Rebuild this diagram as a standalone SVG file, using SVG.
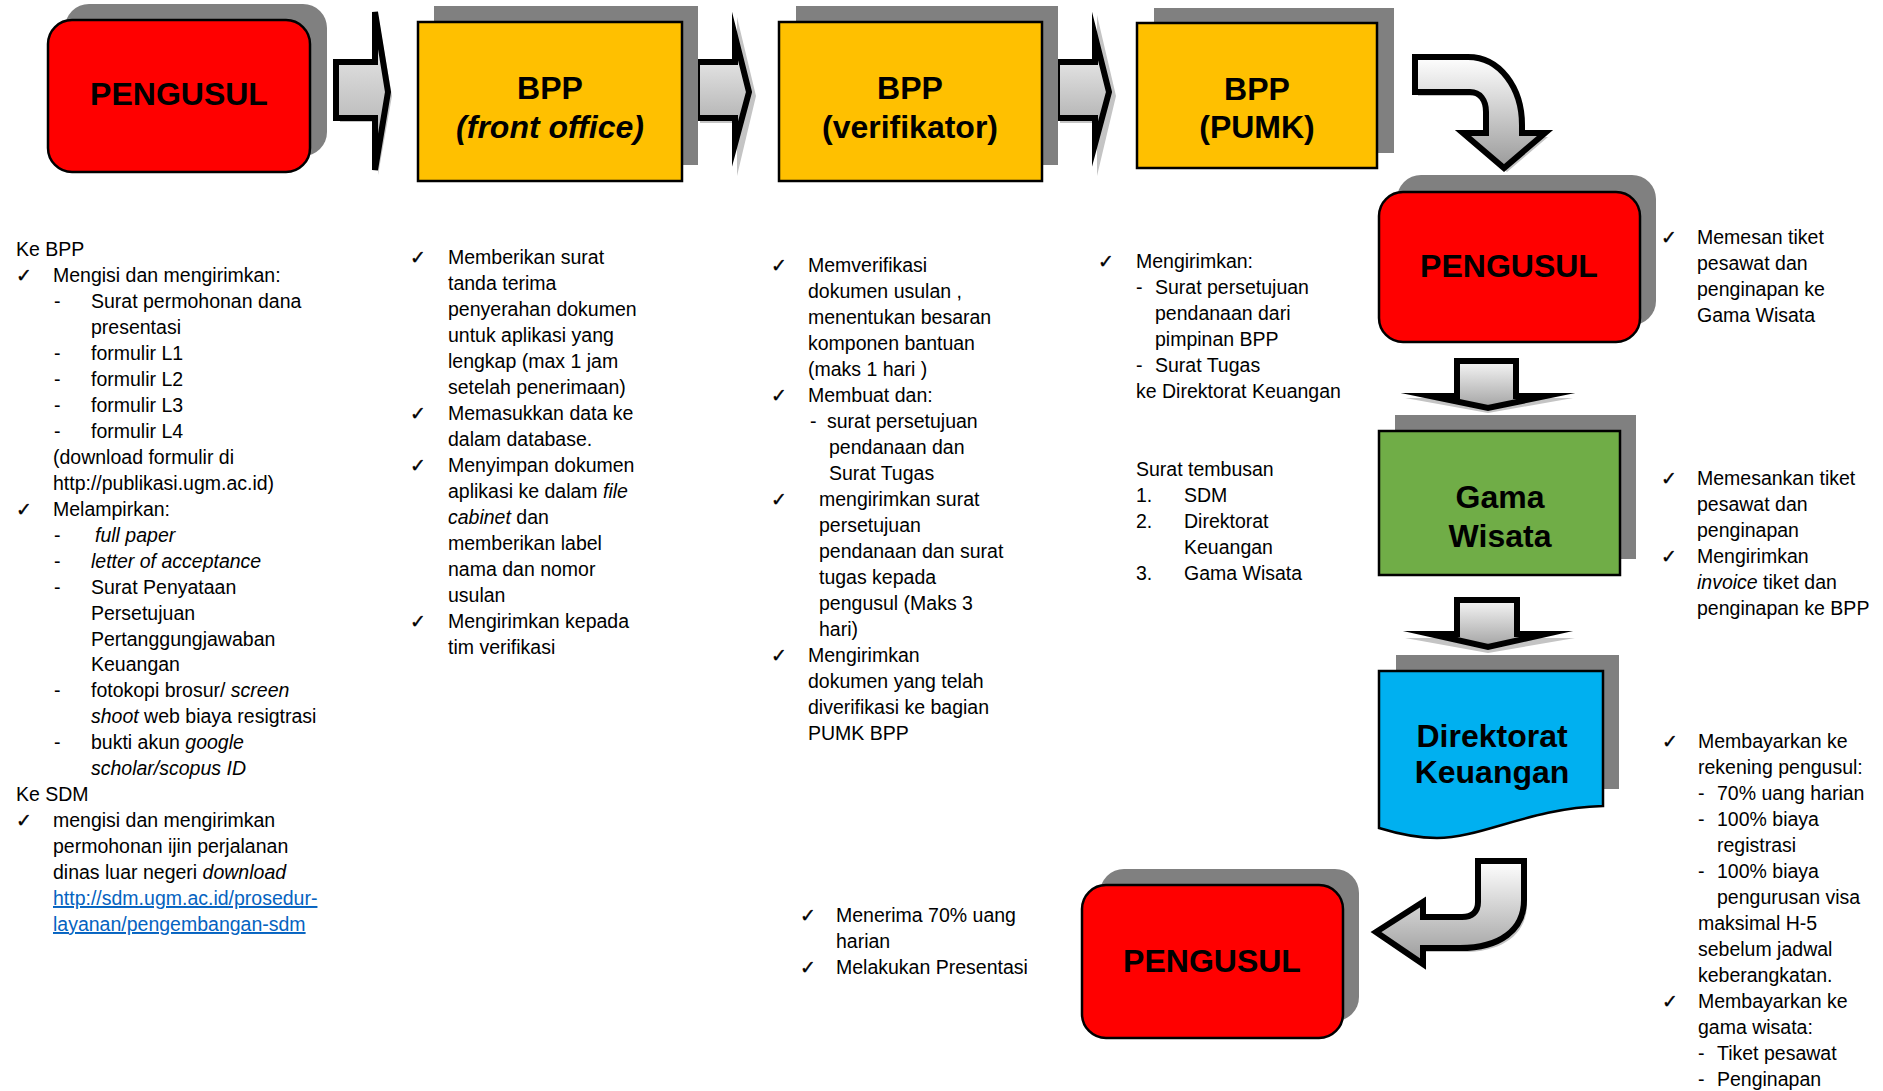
<svg xmlns="http://www.w3.org/2000/svg" width="1883" height="1091" viewBox="0 0 1883 1091">
<defs>
<linearGradient id="gv" x1="0" y1="0" x2="0" y2="1">
<stop offset="0" stop-color="#f6f6f6"/>
<stop offset="1" stop-color="#a3a3a3"/>
</linearGradient>
<linearGradient id="gh" x1="0" y1="0" x2="0" y2="1">
<stop offset="0" stop-color="#ffffff"/>
<stop offset="1" stop-color="#9a9a9a"/>
</linearGradient>
<style>
.box{stroke:#000;stroke-width:2.5}
.sh{fill:#808080}
.lbl{font-family:'Liberation Sans',Arial,sans-serif;font-weight:bold;font-size:32px;text-anchor:middle;fill:#000}
.note{font-family:'Liberation Sans',Arial,sans-serif;font-size:19.5px;fill:#000}
.ck{font-family:'DejaVu Sans',sans-serif;font-size:19px;fill:#000;stroke:#000;stroke-width:0.4}
.ar{stroke:#000;stroke-width:6;stroke-linejoin:miter;stroke-miterlimit:10}
.ash{fill:#c4c4c4}
.it{font-style:italic}
.lnk{fill:#0563C1;text-decoration:underline}
</style>
</defs>
<rect width="1883" height="1091" fill="#fff"/>

<g id="connectors">
<polygon class="ash" points="340,65 378,65 378,15 392,96 378,175 378,122 340,122"/>
<polygon class="ar" fill="url(#gv)" points="336,62 375,62 375,12 388,92 375,170 375,118 336,118"/>
<polygon class="ash" points="737,17 756,96 737,176 737,123 700,123 700,66 737,66"/>
<polygon class="ar" fill="url(#gv)" points="697,62 735,62 735,36 749,92 735,144 735,118 697,118"/>
<polygon class="ash" points="1097,15 1116,96 1097,176 1097,123 1060,123 1060,66 1097,66"/>
<polygon class="ar" fill="url(#gv)" points="1057,62 1095,62 1095,36 1109,92 1095,144 1095,118 1057,118"/>
<path class="ash" transform="translate(3,4)" d="M1415,57 H1468 C1500,57 1522,88 1522,125 V133 H1545 L1504,168 L1463,133 H1486 V112 C1486,100 1480,92 1470,92 H1415 Z"/>
<path class="ar" fill="url(#gh)" d="M1415,57 H1468 C1500,57 1522,88 1522,125 V133 H1545 L1504,168 L1463,133 H1486 V112 C1486,100 1480,92 1470,92 H1415 Z"/>
<polygon class="ash" points="1460,364 1519,364 1519,398 1573,398 1488,413 1405,398 1460,398"/>
<polygon class="ar" fill="url(#gv)" points="1457,361 1516,361 1516,396 1546,396 1488,408 1430,396 1457,396"/>
<polygon class="ash" points="1460,603 1520,603 1520,638 1575,638 1488,653 1405,638 1460,638"/>
<polygon class="ar" fill="url(#gv)" points="1457,600 1517,600 1517,634 1546,634 1488,647 1430,634 1457,634"/>
<path class="ash" transform="translate(3,4)" d="M1478,861 V902 C1478,912 1472,917 1462,917 H1423 V902 L1376,932 L1423,964 V948 H1460 C1500,948 1524,930 1524,900 V861 Z"/>
<path class="ar" fill="url(#gh)" d="M1478,861 V902 C1478,912 1472,917 1462,917 H1423 V902 L1376,932 L1423,964 V948 H1460 C1500,948 1524,930 1524,900 V861 Z"/>
</g>

<g id="n-pengusul1">
<rect class="sh" x="65" y="4" width="262" height="152" rx="24"/>
<rect class="box" x="48" y="20" width="262" height="152" rx="24" fill="#FF0000"/>
<text class="lbl" x="179" y="105">PENGUSUL</text>
</g>

<g id="n-bpp-fo">
<rect class="sh" x="434" y="6" width="264" height="159"/>
<rect class="box" x="418" y="22" width="264" height="159" fill="#FFC000"/>
<text class="lbl" x="550" y="99">BPP</text>
<text class="lbl" x="550" y="138" font-style="italic">(front office)</text>
</g>

<g id="n-bpp-ver">
<rect class="sh" x="796" y="6" width="262" height="159"/>
<rect class="box" x="779" y="22" width="263" height="159" fill="#FFC000"/>
<text class="lbl" x="910" y="99">BPP</text>
<text class="lbl" x="910" y="138">(verifikator)</text>
</g>

<g id="n-bpp-pumk">
<rect class="sh" x="1154" y="8" width="240" height="145"/>
<rect class="box" x="1137" y="23" width="240" height="145" fill="#FFC000"/>
<text class="lbl" x="1257" y="100">BPP</text>
<text class="lbl" x="1257" y="138">(PUMK)</text>
</g>

<g id="n-pengusul2">
<rect class="sh" x="1397" y="175" width="259" height="150" rx="24"/>
<rect class="box" x="1379" y="192" width="261" height="150" rx="24" fill="#FF0000"/>
<text class="lbl" x="1509" y="277">PENGUSUL</text>
</g>

<g id="n-gama">
<rect class="sh" x="1395" y="415" width="241" height="144"/>
<rect class="box" x="1379" y="431" width="241" height="144" fill="#70AD47"/>
<text class="lbl" x="1500" y="508">Gama</text>
<text class="lbl" x="1500" y="547">Wisata</text>
</g>

<g id="n-dirkeu">
<rect class="sh" x="1396" y="655" width="223" height="134"/>
<path class="box" fill="#00B0F0" d="M1379,671 H1603 V806 C1530,808 1482,838 1437,838 C1412,838 1392,832 1379,828 Z"/>
<text class="lbl" x="1492" y="747">Direktorat</text>
<text class="lbl" x="1492" y="783">Keuangan</text>
</g>

<g id="n-pengusul3">
<rect class="sh" x="1100" y="869" width="259" height="152" rx="24"/>
<rect class="box" x="1082" y="885" width="261" height="153" rx="24" fill="#FF0000"/>
<text class="lbl" x="1212" y="972">PENGUSUL</text>
</g>

<g id="notes-pengusul1" class="note">
<text x="16" y="256">Ke BPP</text>
<text class="ck" x="16" y="282">✓</text>
<text x="53" y="282">Mengisi dan mengirimkan:</text>
<text x="54" y="308">-</text><text x="91" y="308">Surat permohonan dana</text>
<text x="91" y="334">presentasi</text>
<text x="54" y="360">-</text><text x="91" y="360">formulir L1</text>
<text x="54" y="386">-</text><text x="91" y="386">formulir L2</text>
<text x="54" y="412">-</text><text x="91" y="412">formulir L3</text>
<text x="54" y="438">-</text><text x="91" y="438">formulir L4</text>
<text x="53" y="464">(download formulir di</text>
<text x="53" y="490">http://publikasi.ugm.ac.id)</text>
<text class="ck" x="16" y="516">✓</text>
<text x="53" y="516">Melampirkan:</text>
<text x="54" y="542">-</text><text x="95" y="542" class="it">full paper</text>
<text x="54" y="568">-</text><text x="91" y="568" class="it">letter of acceptance</text>
<text x="54" y="594">-</text><text x="91" y="594">Surat Penyataan</text>
<text x="91" y="620">Persetujuan</text>
<text x="91" y="646">Pertanggungjawaban</text>
<text x="91" y="671">Keuangan</text>
<text x="54" y="697">-</text><text x="91" y="697">fotokopi brosur/ <tspan class="it">screen</tspan></text>
<text x="91" y="723"><tspan class="it">shoot</tspan> web biaya resigtrasi</text>
<text x="54" y="749">-</text><text x="91" y="749">bukti akun <tspan class="it">google</tspan></text>
<text x="91" y="775" class="it">scholar/scopus ID</text>
<text x="16" y="801">Ke SDM</text>
<text class="ck" x="16" y="827">✓</text>
<text x="53" y="827">mengisi dan mengirimkan</text>
<text x="53" y="853">permohonan ijin perjalanan</text>
<text x="53" y="879">dinas luar negeri  <tspan class="it">download</tspan></text>
<text x="53" y="905" class="lnk">http://sdm.ugm.ac.id/prosedur-</text>
<text x="53" y="931" class="lnk">layanan/pengembangan-sdm</text>
</g>

<g id="notes-bpp-fo" class="note">
<text class="ck" x="410" y="264">✓</text>
<text x="448" y="264">Memberikan surat</text>
<text x="448" y="290">tanda terima</text>
<text x="448" y="316">penyerahan dokumen</text>
<text x="448" y="342">untuk aplikasi yang</text>
<text x="448" y="368">lengkap (max 1 jam</text>
<text x="448" y="394">setelah penerimaan)</text>
<text class="ck" x="410" y="420">✓</text>
<text x="448" y="420">Memasukkan data ke</text>
<text x="448" y="446">dalam database.</text>
<text class="ck" x="410" y="472">✓</text>
<text x="448" y="472">Menyimpan dokumen</text>
<text x="448" y="498">aplikasi ke dalam <tspan class="it">file</tspan></text>
<text x="448" y="524"><tspan class="it">cabinet</tspan> dan</text>
<text x="448" y="550">memberikan label</text>
<text x="448" y="576">nama dan nomor</text>
<text x="448" y="602">usulan</text>
<text class="ck" x="410" y="628">✓</text>
<text x="448" y="628">Mengirimkan kepada</text>
<text x="448" y="654">tim verifikasi</text>
</g>

<g id="notes-bpp-ver" class="note">
<text class="ck" x="771" y="272">✓</text>
<text x="808" y="272">Memverifikasi</text>
<text x="808" y="298">dokumen usulan ,</text>
<text x="808" y="324">menentukan besaran</text>
<text x="808" y="350">komponen  bantuan</text>
<text x="808" y="376">(maks 1 hari )</text>
<text class="ck" x="771" y="402">✓</text>
<text x="808" y="402">Membuat dan:</text>
<text x="810" y="428">-</text><text x="827" y="428">surat persetujuan</text>
<text x="829" y="454">pendanaan  dan</text>
<text x="829" y="480">Surat Tugas</text>
<text class="ck" x="771" y="506">✓</text>
<text x="819" y="506">mengirimkan  surat</text>
<text x="819" y="532">persetujuan</text>
<text x="819" y="558">pendanaan dan surat</text>
<text x="819" y="584">tugas kepada</text>
<text x="819" y="610">pengusul (Maks 3</text>
<text x="819" y="636">hari)</text>
<text class="ck" x="771" y="662">✓</text>
<text x="808" y="662">Mengirimkan</text>
<text x="808" y="688">dokumen yang telah</text>
<text x="808" y="714">diverifikasi ke bagian</text>
<text x="808" y="740">PUMK BPP</text>
</g>

<g id="notes-bpp-pumk" class="note">
<text class="ck" x="1098" y="268">✓</text>
<text x="1136" y="268">Mengirimkan:</text>
<text x="1136" y="294">-</text><text x="1155" y="294">Surat persetujuan</text>
<text x="1155" y="320">pendanaan dari</text>
<text x="1155" y="346">pimpinan BPP</text>
<text x="1136" y="372">-</text><text x="1155" y="372">Surat Tugas</text>
<text x="1136" y="398">ke Direktorat Keuangan</text>
<text x="1136" y="476">Surat tembusan</text>
<text x="1136" y="502">1.</text><text x="1184" y="502">SDM</text>
<text x="1136" y="528">2.</text><text x="1184" y="528">Direktorat</text>
<text x="1184" y="554">Keuangan</text>
<text x="1136" y="580">3.</text><text x="1184" y="580">Gama Wisata</text>
</g>

<g id="notes-pengusul2" class="note">
<text class="ck" x="1661" y="244">✓</text>
<text x="1697" y="244">Memesan tiket</text>
<text x="1697" y="270">pesawat dan</text>
<text x="1697" y="296">penginapan ke</text>
<text x="1697" y="322">Gama Wisata</text>
</g>

<g id="notes-gama" class="note">
<text class="ck" x="1661" y="485">✓</text>
<text x="1697" y="485">Memesankan tiket</text>
<text x="1697" y="511">pesawat dan</text>
<text x="1697" y="537">penginapan</text>
<text class="ck" x="1661" y="563">✓</text>
<text x="1697" y="563">Mengirimkan</text>
<text x="1697" y="589"><tspan class="it">invoice</tspan> tiket dan</text>
<text x="1697" y="615">penginapan ke BPP</text>
</g>

<g id="notes-dirkeu" class="note">
<text class="ck" x="1662" y="748">✓</text>
<text x="1698" y="748">Membayarkan ke</text>
<text x="1698" y="774">rekening pengusul:</text>
<text x="1698" y="800">-</text><text x="1717" y="800">70% uang harian</text>
<text x="1698" y="826">-</text><text x="1717" y="826">100% biaya</text>
<text x="1717" y="852">registrasi</text>
<text x="1698" y="878">-</text><text x="1717" y="878">100% biaya</text>
<text x="1717" y="904">pengurusan visa</text>
<text x="1698" y="930">maksimal H-5</text>
<text x="1698" y="956">sebelum jadwal</text>
<text x="1698" y="982">keberangkatan.</text>
<text class="ck" x="1662" y="1008">✓</text>
<text x="1698" y="1008">Membayarkan ke</text>
<text x="1698" y="1034">gama wisata:</text>
<text x="1698" y="1060">-</text><text x="1717" y="1060">Tiket pesawat</text>
<text x="1698" y="1086">-</text><text x="1717" y="1086">Penginapan</text>
</g>

<g id="notes-pengusul3" class="note">
<text class="ck" x="800" y="922">✓</text>
<text x="836" y="922">Menerima 70% uang</text>
<text x="836" y="948">harian</text>
<text class="ck" x="800" y="974">✓</text>
<text x="836" y="974">Melakukan Presentasi</text>
</g>
</svg>
